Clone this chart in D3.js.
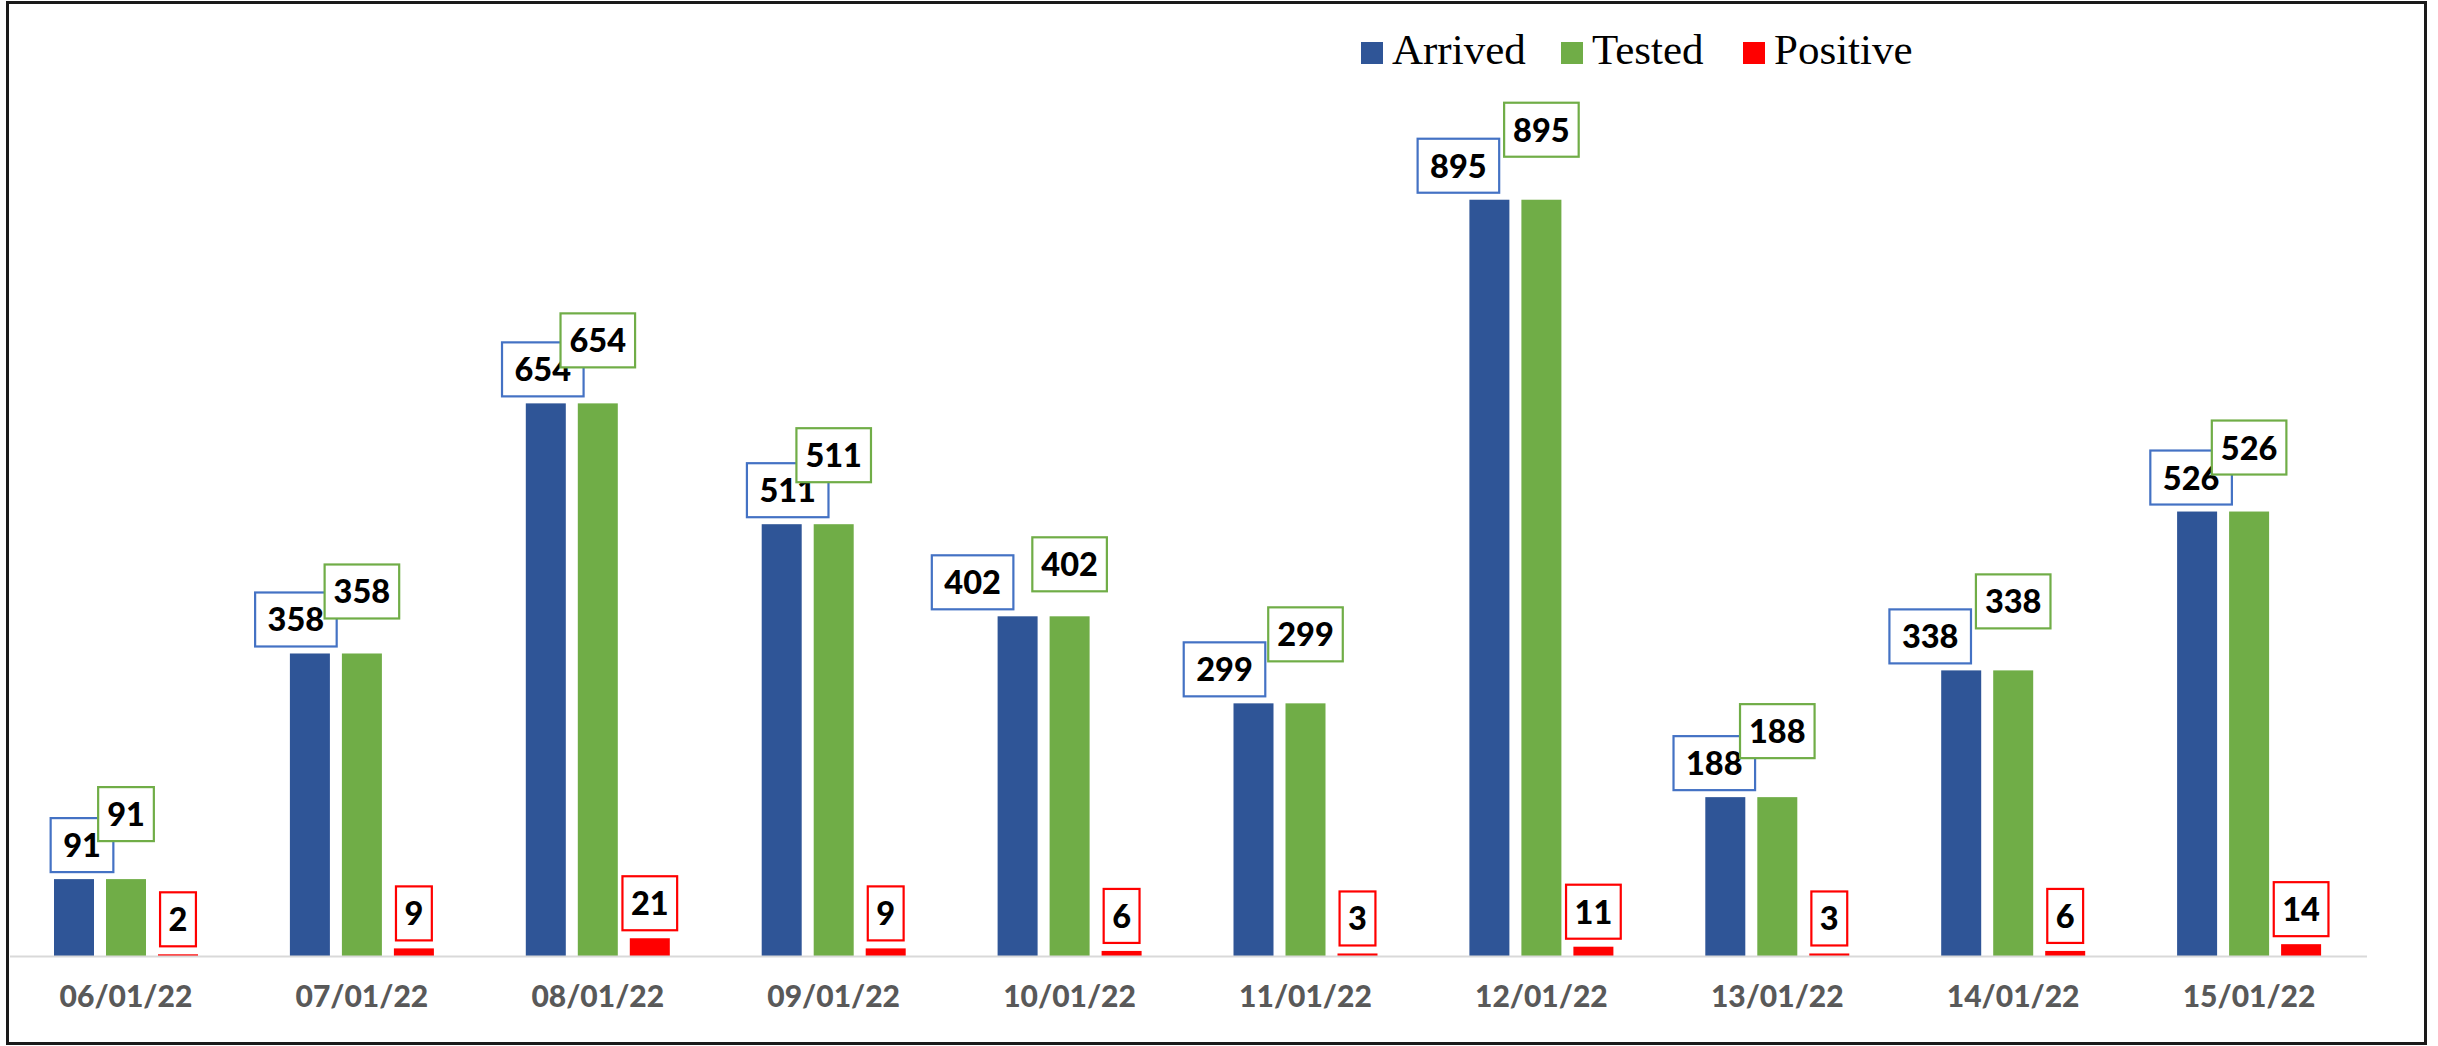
<!DOCTYPE html>
<html>
<head>
<meta charset="utf-8">
<script src="https://cdn.jsdelivr.net/npm/d3@7"></script>
<style>
  html, body { margin: 0; padding: 0; background: #fff; }
  svg { display: block; }
</style>
</head>
<body>
<div id="chart"></div>
<script>
// Daily arrivals, tests and positives

let dates = ["06/01/22", "07/01/22", "08/01/22", "09/01/22", "10/01/22",
	"11/01/22", "12/01/22", "13/01/22", "14/01/22", "15/01/22"];
let series = ["Arrived", "Tested", "Positive"];
let arrived = [91, 358, 654, 511, 402, 299, 895, 188, 338, 526];
let tested = [91, 358, 654, 511, 402, 299, 895, 188, 338, 526];
let positive = [2, 9, 21, 9, 6, 3, 11, 3, 6, 14];

// hand-placed label nudges from the original (blue label x shift, green label lift)
let blueNudge = [8, -14, -3, 6, -45, -29, -31, -11, -31, -6];
let greenLift = [31, 28, 29, 35, 18, 35, 36, 32, 35, 30];

let W = 2438, H = 1046;
let colors = { Arrived: "#2F5597", Tested: "#70AD47", Positive: "#FF0000" };
let borders = { Arrived: "#4472C4", Tested: "#70AD47", Positive: "#FF0000" };

let svg = d3.select("#chart").append("svg")
	.attr("width", W)
	.attr("height", H);

// outer frame
svg.append("rect")
	.attr("x", 7.5).attr("y", 2.5)
	.attr("width", 2418).attr("height", 1041)
	.attr("fill", "#fff")
	.attr("stroke", "#1a1a1a")
	.attr("stroke-width", 3);

let x0 = d3.scaleBand().domain(dates).range([8, 2367]).padding(0);
let x1 = d3.scaleBand().domain(series).range([46, 190]).paddingInner(12 / 52).paddingOuter(0);
let y = d3.scaleLinear().domain([0, 1000]).range([956, 111]);

let rows = dates.map((d, i) => ({
	date: d, i: i,
	values: [
		{ key: "Arrived", value: arrived[i] },
		{ key: "Tested", value: tested[i] },
		{ key: "Positive", value: positive[i] }
	]
}));

// bars
let groups = svg.selectAll(".grp")
	.data(rows)
	.enter().append("g")
	.attr("class", "grp")
	.attr("transform", d => "translate(" + x0(d.date) + ",0)");

groups.selectAll("rect")
	.data(d => d.values)
	.enter().append("rect")
	.attr("x", d => x1(d.key))
	.attr("y", d => y(d.value))
	.attr("width", x1.bandwidth())
	.attr("height", d => y(0) - y(d.value))
	.attr("fill", d => colors[d.key]);

// x axis
let xAxis = svg.append("g")
	.attr("transform", "translate(0," + y(0) + ")")
	.call(d3.axisBottom(x0).tickSize(0).tickPadding(51));
xAxis.select(".domain").attr("stroke", "#d9d9d9").attr("stroke-width", 2)
	.attr("d", "M10,0.5H2367");
xAxis.selectAll("text")
	.attr("font-family", "Lato, 'Open Sans', sans-serif")
	.attr("font-weight", 900)
	.attr("font-size", 30)
	.attr("fill", "#595959")
	.attr("dy", 0);

// data labels
let labelLayer = svg.append("g");
let fontLabel = "Lato, 'Open Sans', sans-serif";
let boxH = 54;

function drawLabel(cx, bottom, value, key, pad) {
	let g = labelLayer.append("g");
	let t = g.append("text")
		.attr("font-family", fontLabel)
		.attr("font-weight", 900)
		.attr("font-size", 32.5)
		.attr("text-anchor", "middle")
		.attr("fill", "#000")
		.attr("x", cx)
		.attr("y", bottom - boxH / 2 + 12)
		.text(value);
	let tw = t.node().getComputedTextLength();
	g.insert("rect", "text")
		.attr("x", cx - (tw + pad) / 2)
		.attr("y", bottom - boxH)
		.attr("width", tw + pad)
		.attr("height", boxH)
		.attr("fill", "#fff")
		.attr("stroke", borders[key])
		.attr("stroke-width", 2.2);
}

rows.forEach(r => {
	let left = x0(r.date);
	let bw = x1.bandwidth();
	let aTop = y(arrived[r.i]);
	let blueBottom = aTop - 7;
	drawLabel(left + x1("Arrived") + bw / 2 + blueNudge[r.i], blueBottom, arrived[r.i], "Arrived", 25);
	drawLabel(left + x1("Tested") + bw / 2, blueBottom - greenLift[r.i], tested[r.i], "Tested", 18);
	drawLabel(left + x1("Positive") + bw / 2, y(positive[r.i]) - 8, positive[r.i], "Positive", 17);
});

// legend
let legend = svg.append("g");
let legendX = [1361, 1561, 1743];
series.forEach((s, i) => {
	legend.append("rect")
		.attr("x", legendX[i]).attr("y", 42)
		.attr("width", 22).attr("height", 22)
		.attr("fill", colors[s]);
	legend.append("text")
		.attr("x", legendX[i] + 31).attr("y", 64)
		.attr("font-family", "'Liberation Serif', 'Times New Roman', serif")
		.attr("font-size", 43)
		.attr("fill", "#000")
		.text(s);
});
</script>
</body>
</html>
